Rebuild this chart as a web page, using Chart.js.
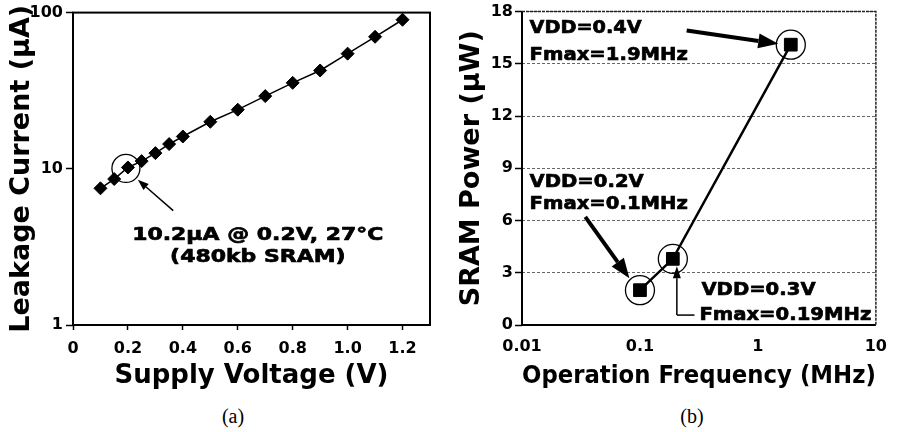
<!DOCTYPE html>
<html>
<head>
<meta charset="utf-8">
<script src="https://cdn.jsdelivr.net/npm/chart.js@4.4.1/dist/chart.umd.min.js"></script>
<style>
  body { margin: 0; background: #fff; width: 899px; height: 432px; position: relative; overflow: hidden; }
  #boxA { position: absolute; left: 0; top: 0; }
  #boxB { position: absolute; left: 450px; top: 0; }
  .cap { position: absolute; top: 404px; width: 60px; text-align: center; font: 20px "Liberation Serif"; line-height: 24px; color: #000; }
</style>
</head>
<body>
<div id="boxA"><canvas id="chartA" width="450" height="400"></canvas></div>
<div id="boxB"><canvas id="chartB" width="449" height="400"></canvas></div>
<div class="cap" style="left:203px">(a)</div>
<div class="cap" style="left:662px">(b)</div>
<script>
// (a) leakage vs supply voltage
const voltage = [0.1, 0.15, 0.2, 0.25, 0.3, 0.35, 0.4, 0.5, 0.6, 0.7, 0.8, 0.9, 1.0, 1.1, 1.2];
const leakage = [7.5, 8.6, 10.2, 11.2, 12.6, 14.4, 16.1, 20.0, 23.9, 29.2, 35.5, 42.6, 54.6, 70, 90];
const voltTicks = [0, 0.2, 0.4, 0.6, 0.8, 1.0, 1.2];
const voltLabels = ['0', '0.2', '0.4', '0.6', '0.8', '1.0', '1.2'];
const leakTicks = [1, 10, 100];

// (b) SRAM power vs operating frequency
const freq = [0.1, 0.19, 1.9];
const power = [2.0, 3.8, 16.1];
const freqTicks = [0.01, 0.1, 1, 10];
const freqLabels = ['0.01', '0.1', '1', '10'];
const powerTicks = [0, 3, 6, 9, 12, 15, 18];

const FAM = '"DejaVu Sans", "Liberation Sans", sans-serif';
const tickFont = { family: FAM, size: 16, weight: 'bold' };

// heavy, slightly widened label text (the paper uses a black-weight face)
function stretchText(ctx, text, x, y, size, sx, align) {
  ctx.save();
  ctx.font = 'bold ' + size + 'px ' + FAM;
  ctx.fillStyle = '#000';
  ctx.strokeStyle = '#000';
  ctx.lineWidth = 0.7;
  ctx.lineJoin = 'round';
  ctx.textBaseline = 'alphabetic';
  ctx.textAlign = align;
  ctx.translate(x, y);
  ctx.scale(sx, 1);
  ctx.fillText(text, 0, 0);
  ctx.strokeText(text, 0, 0);
  ctx.restore();
}

function arrow(ctx, x1, y1, x2, y2, w, hl, hw) {
  const a = Math.atan2(y2 - y1, x2 - x1);
  const bx = x2 - hl * Math.cos(a), by = y2 - hl * Math.sin(a);
  ctx.lineWidth = w;
  ctx.beginPath(); ctx.moveTo(x1, y1); ctx.lineTo(bx, by); ctx.stroke();
  ctx.beginPath();
  ctx.moveTo(x2, y2);
  ctx.lineTo(bx + hw / 2 * Math.sin(a), by - hw / 2 * Math.cos(a));
  ctx.lineTo(bx - hw / 2 * Math.sin(a), by + hw / 2 * Math.cos(a));
  ctx.closePath(); ctx.fill();
}

function circle(ctx, x, y, r) {
  ctx.lineWidth = 1.3;
  ctx.beginPath(); ctx.arc(x, y, r, 0, Math.PI * 2); ctx.stroke();
}

// frame round the plot area
const frameA = {
  id: 'frameA',
  afterDraw(chart) {
    const { ctx, chartArea: c } = chart;
    ctx.save();
    ctx.strokeStyle = '#000';
    ctx.lineWidth = 2;
    ctx.strokeRect(c.left, c.top, c.right - c.left, c.bottom - c.top);
    ctx.restore();
  }
};

const frameB = {
  id: 'frameB',
  afterDraw(chart) {
    const { ctx, chartArea: c } = chart;
    ctx.save();
    ctx.strokeStyle = '#000';
    ctx.lineWidth = 2;
    ctx.beginPath();
    ctx.moveTo(c.left, c.top); ctx.lineTo(c.left, c.bottom); ctx.lineTo(c.right, c.bottom);
    ctx.stroke();
    ctx.strokeStyle = '#222';
    ctx.lineWidth = 1.5;
    ctx.setLineDash([3, 1]);
    ctx.beginPath();
    ctx.moveTo(c.left, c.top); ctx.lineTo(c.right, c.top); ctx.lineTo(c.right, c.bottom);
    ctx.stroke();
    ctx.restore();
  }
};

const notesA = {
  id: 'notesA',
  afterDraw(chart) {
    const { ctx, scales: { x, y } } = chart;
    const P = (a, b) => [x.getPixelForValue(a), y.getPixelForValue(b)];
    ctx.save();
    ctx.strokeStyle = '#000';
    ctx.fillStyle = '#000';
    const [cx, cy] = P(0.2, 10.2);
    circle(ctx, cx - 2, cy + 1, 14);
    const [t1x, t1y] = P(0.365, 5.4);
    const [h1x, h1y] = P(0.236, 8.5);
    arrow(ctx, t1x, t1y, h1x, h1y, 1.5, 11, 8);
    const [l1x, l1y] = P(0.673, 3.48);
    stretchText(ctx, '10.2µA @ 0.2V, 27°C', l1x, l1y, 18, 1.22, 'center');
    const [l2x, l2y] = P(0.673, 2.52);
    stretchText(ctx, '(480kb SRAM)', l2x, l2y, 18, 1.22, 'center');
    ctx.restore();
  }
};

const notesB = {
  id: 'notesB',
  afterDraw(chart) {
    const { ctx, scales: { x, y } } = chart;
    const P = (a, b) => [x.getPixelForValue(a), y.getPixelForValue(b)];
    ctx.save();
    ctx.strokeStyle = '#000';
    ctx.fillStyle = '#000';
    freq.forEach((f, i) => {
      const [cx, cy] = P(f, power[i]);
      circle(ctx, cx, cy, 14.5);
    });
    // VDD=0.4V
    let [a, b] = P(0.0116, 16.78);
    stretchText(ctx, 'VDD=0.4V', a, b, 18, 1.07, 'left');
    [a, b] = P(0.0116, 15.23);
    stretchText(ctx, 'Fmax=1.9MHz', a, b, 18, 1.09, 'left');
    let [tx, ty] = P(0.249, 16.91);
    let [hx, hy] = P(1.488, 16.15);
    arrow(ctx, tx, ty, hx, hy, 4, 20, 15);
    // VDD=0.2V
    [a, b] = P(0.0116, 7.93);
    stretchText(ctx, 'VDD=0.2V', a, b, 18, 1.09, 'left');
    [a, b] = P(0.0116, 6.69);
    stretchText(ctx, 'Fmax=0.1MHz', a, b, 18, 1.09, 'left');
    [tx, ty] = P(0.0344, 6.21);
    [hx, hy] = P(0.0814, 2.68);
    arrow(ctx, tx, ty, hx, hy, 4, 20, 15);
    // VDD=0.3V
    [a, b] = P(0.332, 1.72);
    stretchText(ctx, 'VDD=0.3V', a, b, 18, 1.09, 'left');
    [a, b] = P(0.319, 0.29);
    stretchText(ctx, 'Fmax=0.19MHz', a, b, 18, 1.09, 'left');
    const [sx, sy] = P(0.29, 0.57);
    const [kx, ky] = P(0.2055, 0.57);
    const [ex, ey] = P(0.2055, 3.38);
    ctx.lineWidth = 1.5;
    ctx.beginPath(); ctx.moveTo(sx, sy); ctx.lineTo(kx, ky); ctx.stroke();
    arrow(ctx, kx, ky, ex, ey, 1.5, 12, 8);
    ctx.restore();
  }
};

new Chart(document.getElementById('chartA'), {
  type: 'line',
  data: {
    datasets: [{
      data: voltage.map((v, i) => ({ x: v, y: leakage[i] })),
      borderColor: '#000',
      borderWidth: 1.5,
      backgroundColor: '#000',
      pointStyle: 'rectRot',
      pointRadius: 6.5,
      pointBorderWidth: 1,
      tension: 0
    }]
  },
  options: {
    responsive: false,
    animation: false,
    layout: { padding: { left: 0, right: 20, top: 11, bottom: 0 } },
    plugins: { legend: { display: false }, tooltip: { enabled: false } },
    scales: {
      x: {
        type: 'linear', min: 0, max: 1.3,
        afterBuildTicks: s => { s.ticks = voltTicks.map(v => ({ value: v })); },
        afterFit: s => { s.height = 75; },
        ticks: { callback: (v, i) => voltLabels[i], font: tickFont, color: '#000', padding: 9, maxRotation: 0, autoSkip: false },
        grid: { drawOnChartArea: false, drawTicks: true, tickLength: 5, tickColor: '#000', tickWidth: 1.5 },
        border: { display: false },
        title: { display: true, text: 'Supply Voltage (V)', color: '#000', font: { family: FAM, size: 26, weight: 'bold' }, padding: { top: 0, bottom: 8 } }
      },
      y: {
        type: 'logarithmic', min: 1, max: 100,
        afterBuildTicks: s => { s.ticks = leakTicks.map(v => ({ value: v })); },
        afterFit: s => { s.width = 73; },
        ticks: { callback: v => String(v), font: tickFont, color: '#000', padding: 3 },
        grid: { drawOnChartArea: false, drawTicks: true, tickLength: 7, tickColor: '#000', tickWidth: 1.5 },
        border: { display: false },
        title: { display: true, text: 'Leakage Current (µA)', color: '#000', font: { family: FAM, size: 27, weight: 'bold' }, padding: { top: 6, bottom: 0 } }
      }
    }
  },
  plugins: [frameA, notesA]
});

new Chart(document.getElementById('chartB'), {
  type: 'line',
  data: {
    datasets: [{
      data: freq.map((f, i) => ({ x: f, y: power[i] })),
      borderColor: '#000',
      borderWidth: 2.5,
      backgroundColor: '#000',
      pointStyle: 'rect',
      pointRadius: 9,
      pointBorderWidth: 1,
      tension: 0
    }]
  },
  options: {
    responsive: false,
    animation: false,
    layout: { padding: { left: 0, right: 16, top: 11, bottom: 0 } },
    plugins: { legend: { display: false }, tooltip: { enabled: false } },
    scales: {
      x: {
        type: 'logarithmic', min: 0.01, max: 10,
        afterBuildTicks: s => { s.ticks = freqTicks.map(v => ({ value: v })); },
        afterFit: s => { s.height = 75; },
        ticks: { callback: (v, i) => freqLabels[i], font: tickFont, color: '#000', padding: 12, maxRotation: 0, autoSkip: false },
        grid: { display: false, drawTicks: false },
        border: { display: false },
        title: { display: true, text: 'Operation Frequency (MHz)', color: '#000', font: { family: FAM, size: 25.5, weight: 'bold' }, padding: { top: 0, bottom: 8 } }
      },
      y: {
        type: 'linear', min: 0, max: 18,
        afterBuildTicks: s => { s.ticks = powerTicks.map(v => ({ value: v })); },
        afterFit: s => { s.width = 72; },
        ticks: { callback: v => String(v), font: tickFont, color: '#000', padding: 2 },
        grid: { drawOnChartArea: true, color: '#666', lineWidth: 1, drawTicks: true, tickLength: 7, tickColor: '#000', tickWidth: 1.5 },
        border: { display: false, dash: [3, 2] },
        title: { display: true, text: 'SRAM Power (µW)', color: '#000', font: { family: FAM, size: 27, weight: 'bold' }, padding: { top: 6, bottom: 0 } }
      }
    }
  },
  plugins: [frameB, notesB]
});
</script>
</body>
</html>
